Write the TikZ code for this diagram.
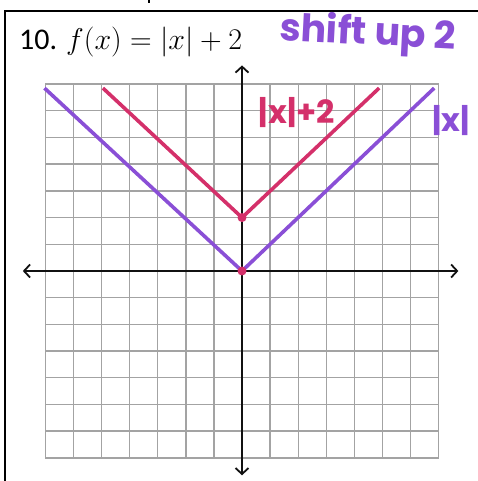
\RequirePackage{fix-cm}
\documentclass[tikz,border=0pt]{standalone}
\usepackage{fontspec}
\setmainfont{Carlito}
\newfontfamily\handfont{Poppins}
\usepackage{xcolor}
\definecolor{grape}{HTML}{8A4FD6}
\definecolor{berry}{HTML}{D4306A}
\definecolor{gridgray}{HTML}{A3A3A3}
\definecolor{ink}{HTML}{111111}
\usetikzlibrary{arrows.meta}
\tikzset{
  vbarb/.tip={Straight Barb[length=6pt,width=13pt,line width=1.8pt]},
  gridln/.style={draw=gridgray,line width=1.4pt},
  axisln/.style={draw=ink,line width=1.8pt,{vbarb}-{vbarb}},
  frameln/.style={draw=black,line width=2.6pt},
  absline/.style={draw=grape,line width=3.6pt,line join=round},
  shiftline/.style={draw=berry,line width=3.6pt,line join=round},
  pt/.style={circle,fill=berry,inner sep=0pt,minimum size=9pt},
  title/.style={font=\fontsize{30}{34}\selectfont,text=black,inner sep=0pt},
  hand/.style={font=\handfont\bfseries\fontsize{#1}{#1}\selectfont,inner sep=0pt},
}

\begin{document}
\begin{tikzpicture}[x=1pt,y=1pt]
  \useasboundingbox (0,0) rectangle (478,481);
  % page frame
  \draw[frameln] (5,0) -- (5,470) -- (478,470);
  \draw[draw=black,line width=1.5pt] (149,478) -- (149,481);
  \node[title,anchor=base west] (ttl) at (19,431) {10. $f(x) = |x| + 2$};
  \node[hand=38,text=grape,anchor=base west,rotate=-3] (note) at (279,441) {shift up 2};
  \begin{scope}[shift={(242,210)},x=28.1pt,y=26.7pt]
    % grid
    \foreach \i in {-7,...,7} {
      \draw[gridln] (\i,-7) -- (\i,7);
      \draw[gridln] (-7,\i) -- (7,\i);
    }
    \draw[axisln] (-7.8,0) -- (7.7,0);
    \draw[axisln] (0,-7.65) -- (0,7.7);
    \coordinate (o) at (0,0);
    \coordinate (v) at (0,2);
    \coordinate (al) at (-7.03,6.85);
    \coordinate (ar) at (6.84,6.85);
    \coordinate (sl) at (-4.95,6.85);
    \coordinate (sr) at (4.88,6.85);
    \draw[absline] (al) -- (o) -- (ar);
    \draw[shiftline] (sl) -- (v) -- (sr);
    \node[pt] (p0) at (o) {};
    \node[pt] (p2) at (v) {};
    \node[hand=32,text=berry] (lshift) at (1.95,5.95) {|x|+2};
    \node[hand=32,text=grape] (labs) at (7.44,5.65) {|x|};
  \end{scope}
\end{tikzpicture}
\end{document}
